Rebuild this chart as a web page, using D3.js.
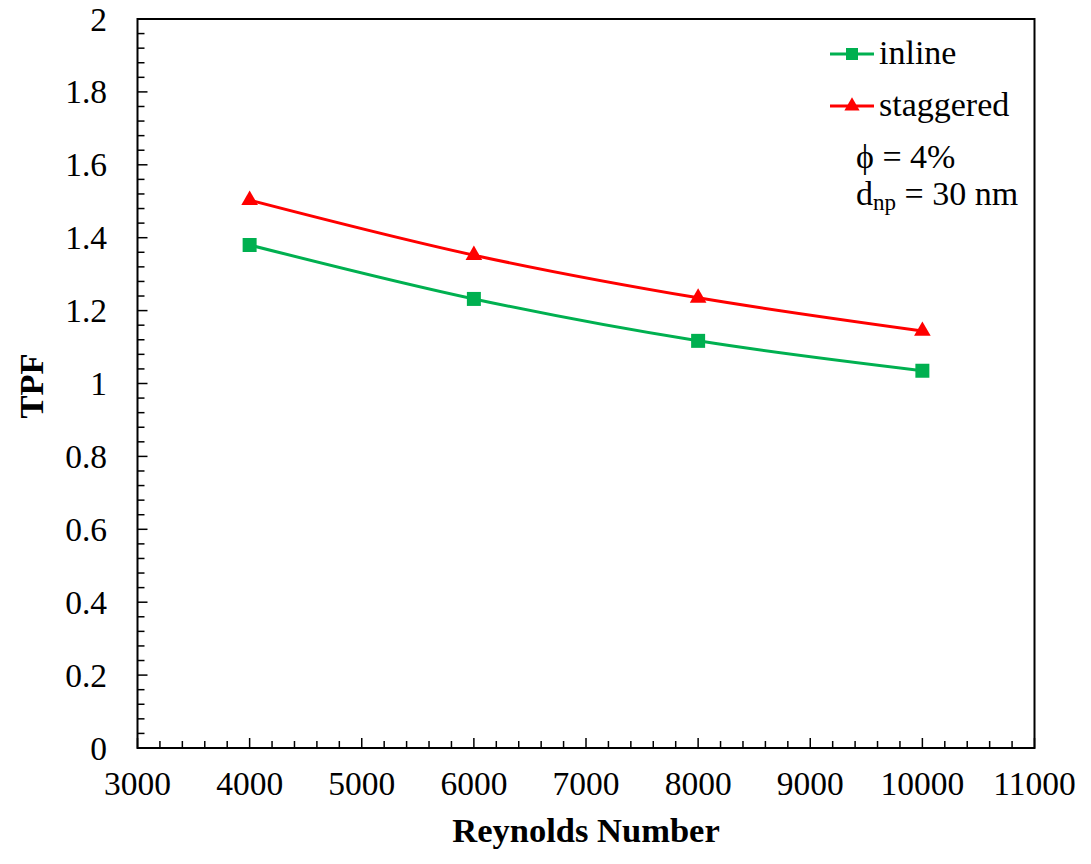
<!DOCTYPE html>
<html><head><meta charset="utf-8">
<script src="https://cdn.jsdelivr.net/npm/d3@7"></script>
<style>body{margin:0;background:#fff;} svg{display:block;} text{font-family:"Liberation Serif","Times New Roman",Tinos,"DejaVu Serif",serif;}</style>
</head><body>
<script>
const reynolds = [4000, 6000, 8000, 10000];
const inlineTPF = [1.380, 1.232, 1.117, 1.035];
const staggeredTPF = [1.503, 1.352, 1.235, 1.144];
const xTicks = [3000,4000,5000,6000,7000,8000,9000,10000,11000];
const yTicks = [0,0.2,0.4,0.6,0.8,1,1.2,1.4,1.6,1.8,2];
const seriesNames = ["inline", "staggered"];

const W = 1091, H = 864;
const L = 137.5, R = 1034.5, T = 19, B = 748;
const svg = d3.select("body").append("svg").attr("width", W).attr("height", H);

const x = d3.scaleLinear().domain([3000, 11000]).range([L, R]);
const y = d3.scaleLinear().domain([0, 2]).range([B, T]);

// frame
svg.append("rect").attr("x", L).attr("y", T).attr("width", R - L).attr("height", B - T)
  .attr("fill", "none").attr("stroke", "#000").attr("stroke-width", 2);

// x axis ticks (inward)
const xMinor = d3.range(3000, 11001, 200);
svg.append("g").selectAll("line").data(xMinor).join("line")
  .attr("x1", d => x(d)).attr("x2", d => x(d))
  .attr("y1", B).attr("y2", d => B - (d % 1000 === 0 ? 10 : 7))
  .attr("stroke", "#000").attr("stroke-width", 1.5);
svg.append("g").selectAll("text").data(xTicks).join("text")
  .attr("x", d => x(d)).attr("y", 795)
  .attr("text-anchor", "middle").attr("font-size", 33.5)
  .text(d => d);

// y axis ticks (inward)
const yMinor = d3.range(0, 51).map(i => i * 0.04);
svg.append("g").selectAll("line").data(yMinor).join("line")
  .attr("x1", L).attr("x2", (d, i) => L + (i % 5 === 0 ? 10 : 7))
  .attr("y1", d => y(d)).attr("y2", d => y(d))
  .attr("stroke", "#000").attr("stroke-width", 1.5);
svg.append("g").selectAll("text").data(yTicks).join("text")
  .attr("x", 107).attr("y", d => y(d) + 11.5)
  .attr("text-anchor", "end").attr("font-size", 33.5)
  .text(d => d);

// axis titles
svg.append("text").attr("x", 586).attr("y", 842)
  .attr("text-anchor", "middle").attr("font-size", 34.5)
  .attr("font-weight", "bold").text("Reynolds Number");
svg.append("text").attr("transform", "translate(43,386) rotate(-90)")
  .attr("text-anchor", "middle").attr("font-size", 34.5)
  .attr("font-weight", "bold").text("TPF");

const line = d3.line().x(d => x(d[0])).y(d => y(d[1])).curve(d3.curveCatmullRom.alpha(0.5));
const green = "#00B050", red = "#FF0000";
const inlineData = reynolds.map((r, i) => [r, inlineTPF[i]]);
const stagData = reynolds.map((r, i) => [r, staggeredTPF[i]]);

svg.append("path").attr("d", line(inlineData)).attr("fill", "none").attr("stroke", green).attr("stroke-width", 3);
svg.append("path").attr("d", line(stagData)).attr("fill", "none").attr("stroke", red).attr("stroke-width", 3);

const sq = d3.symbol().type(d3.symbolSquare).size(196);
const tri = d3.symbol().type(d3.symbolTriangle).size(120);
svg.append("g").selectAll("path").data(inlineData).join("path")
  .attr("d", sq).attr("transform", d => `translate(${x(d[0])},${y(d[1])})`).attr("fill", green);
svg.append("g").selectAll("path").data(stagData).join("path")
  .attr("d", tri).attr("transform", d => `translate(${x(d[0])},${y(d[1])})`).attr("fill", red);

// legend
const leg = [
  {name: seriesNames[0], c: green, s: d3.symbol().type(d3.symbolSquare).size(144), y: 54},
  {name: seriesNames[1], c: red, s: d3.symbol().type(d3.symbolTriangle).size(100), y: 106}
];
leg.forEach(l => {
  svg.append("line").attr("x1", 830).attr("x2", 874).attr("y1", l.y).attr("y2", l.y)
    .attr("stroke", l.c).attr("stroke-width", 3);
  svg.append("path").attr("d", l.s()).attr("transform", `translate(852,${l.y})`).attr("fill", l.c);
  svg.append("text").attr("x", 879).attr("y", l.y + 10).attr("font-size", 34).text(l.name);
});
svg.append("text").attr("x", 856).attr("y", 168).attr("font-size", 34).text("ϕ = 4%");
const dt = svg.append("text").attr("x", 856).attr("y", 205).attr("font-size", 34);
dt.append("tspan").text("d");
dt.append("tspan").attr("font-size", 23).attr("dy", 5).text("np");
dt.append("tspan").attr("dy", -5).text(" = 30 nm");
</script>
</body></html>
